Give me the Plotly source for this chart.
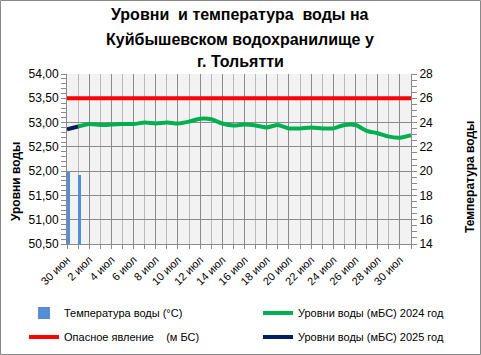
import plotly.graph_objects as go

dates = ["30 июн", "1 июл", "2 июл", "3 июл", "4 июл", "5 июл", "6 июл", "7 июл",
         "8 июл", "9 июл", "10 июл", "11 июл", "12 июл", "13 июл", "14 июл", "15 июл",
         "16 июл", "17 июл", "18 июл", "19 июл", "20 июл", "21 июл", "22 июл", "23 июл",
         "24 июл", "25 июл", "26 июл", "27 июл", "28 июл", "29 июл", "30 июл", "31 июл"]

level_2024 = [None, 52.92, 52.97, 52.95, 52.96, 52.97, 52.97, 53.00, 52.98, 53.00,
              52.98, 53.02, 53.08, 53.07, 52.98, 52.94, 52.96, 52.94, 52.90, 52.95,
              52.88, 52.88, 52.90, 52.88, 52.88, 52.95, 52.95, 52.83, 52.78, 52.71,
              52.69, 52.74]

level_2025 = [52.86, 52.92] + [None] * 30

danger_level = [53.5, 53.5, 53.5, 53.5, 53.5, 53.5, 53.5, 53.5, 53.5, 53.5, 53.5,
                53.5, 53.5, 53.5, 53.5, 53.5, 53.5, 53.5, 53.5, 53.5, 53.5, 53.5,
                53.5, 53.5, 53.5, 53.5, 53.5, 53.5, 53.5, 53.5, 53.5, 53.5]

temperature = [19.9, 19.7] + [None] * 30

title_lines = ["Уровни  и температура  воды на", "Куйбышевском водохранилище у", "г. Тольятти"]

x_idx = list(range(len(dates)))
tick_idx = x_idx[::2]
tick_text = dates[::2]

FONT = "Liberation Sans"
W, H = 481, 355
L, R, T, B = 67, 70, 74, 111
pw, ph = W - L - R, H - T - B


def px_x(px):
    return (px - L) / pw


def px_y(py):
    return (H - B - py) / ph


fig = go.Figure()
fig.add_trace(go.Scatter(x=x_idx, y=level_2024, mode="lines", name="Уровни воды (мБС) 2024 год",
                         line=dict(color="#00b050", width=4, shape="spline", smoothing=0.6),
                         legend="legend2"))
fig.add_trace(go.Scatter(x=x_idx, y=danger_level, mode="lines", name="Опасное явление    (м БС)",
                         line=dict(color="#ff0000", width=4), legend="legend3"))
fig.add_trace(go.Scatter(x=x_idx, y=level_2025, mode="lines", name="Уровни воды (мБС) 2025 год",
                         line=dict(color="#002060", width=4), legend="legend4"))
fig.add_trace(go.Bar(x=x_idx, y=temperature, yaxis="y2", name="Температура воды (°С)",
                     width=0.24, offset=0.02,
                     marker=dict(color="#558ed5", line=dict(width=0)),
                     legend="legend"))

grid_dark = "#8a8a8a"
grid_light = "#b9b9b9"


def leg(xpx, ypx):
    return dict(orientation="h", xref="paper", yref="paper",
                x=px_x(xpx), y=px_y(ypx), xanchor="left", yanchor="middle",
                font=dict(size=11, family=FONT, color="#000000"),
                bgcolor="rgba(0,0,0,0)", borderwidth=0)


fig.update_layout(
    width=W, height=H,
    margin=dict(l=L, r=R, t=T, b=B, autoexpand=False),
    paper_bgcolor="white", plot_bgcolor="#f2f2f2",
    separators=", ",
    font=dict(family=FONT, size=11, color="#000000"),
    bargap=0,
    xaxis=dict(range=[0, 31], tickmode="array", tickvals=tick_idx, ticktext=tick_text,
               tickangle=-45, showgrid=True, gridcolor=grid_dark, gridwidth=1,
               ticks="outside", ticklen=4, tickcolor=grid_dark, automargin=False,
               showline=True, linecolor=grid_dark, linewidth=1, zeroline=False,
               tickfont=dict(size=11),
               minor=dict(tickmode="linear", tick0=0, dtick=1, showgrid=True,
                          gridcolor=grid_light, gridwidth=1, ticks="outside", ticklen=4,
                          tickcolor=grid_dark)),
    yaxis=dict(range=[50.5, 54], dtick=0.5, tick0=50.5, tickformat=".2f",
               showgrid=True, gridcolor=grid_dark, gridwidth=1, automargin=False,
               ticks="outside", ticklen=5, tickcolor=grid_dark,
               showline=True, linecolor=grid_dark, zeroline=False,
               tickfont=dict(size=12),
               minor=dict(dtick=0.1, ticks="outside", ticklen=5, tickcolor=grid_dark, showgrid=False)),
    yaxis2=dict(range=[14, 28], dtick=2, tick0=14, overlaying="y", side="right",
                showgrid=False, ticks="outside", ticklen=5, tickcolor=grid_dark,
                showline=True, linecolor=grid_dark, zeroline=False, automargin=False,
                tickfont=dict(size=12),
                minor=dict(dtick=0.5, ticks="outside", ticklen=5, tickcolor=grid_dark)),
    legend=leg(24, 313),
    legend2=leg(258, 313),
    legend3=leg(24, 337),
    legend4=leg(258, 337),
    showlegend=True,
)

for text, cy in zip(title_lines, [15, 39, 61]):
    fig.add_annotation(text="<b>" + text + "</b>", xref="paper", yref="paper",
                       x=px_x(240), y=px_y(cy), xanchor="center", yanchor="middle",
                       showarrow=False, font=dict(size=16, family=FONT, color="#000000"))

fig.add_annotation(text="<b>Уровни воды</b>", xref="paper", yref="paper",
                   x=px_x(16), y=px_y(181), xanchor="center", yanchor="middle",
                   textangle=-90, showarrow=False, font=dict(size=12, family=FONT))
fig.add_annotation(text="<b>Температура воды</b>", xref="paper", yref="paper",
                   x=px_x(470), y=px_y(177), xanchor="center", yanchor="middle",
                   textangle=-90, showarrow=False, font=dict(size=12, family=FONT))

fig.add_shape(type="rect", xref="paper", yref="paper",
              x0=px_x(0.5), x1=px_x(W - 0.5), y0=px_y(H - 0.5), y1=px_y(0.5),
              line=dict(color="#888888", width=1), layer="above")

fig.write_html("out.html", post_script="document.body.style.margin='0';",
               config={"displayModeBar": False})
